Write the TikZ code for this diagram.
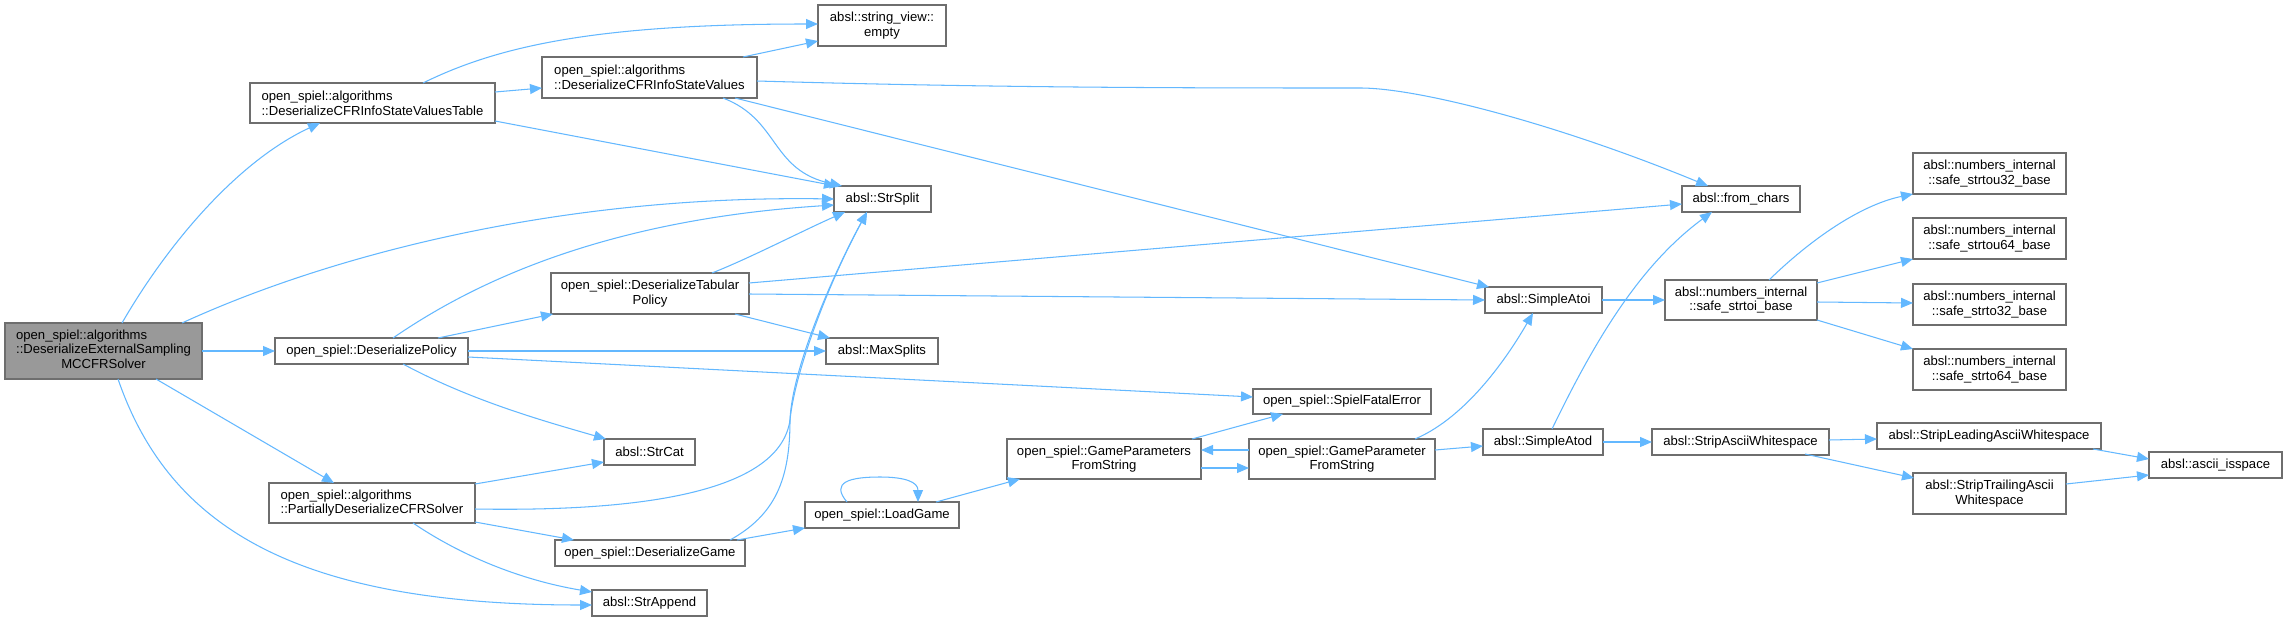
\documentclass[tikz,border=0pt]{standalone}
\usepackage{fontspec}
\setmainfont{Liberation Sans}
\usetikzlibrary{arrows.meta}
\definecolor{edgeblue}{HTML}{63B8FF}
\definecolor{boxgray}{HTML}{6E6E6E}
\definecolor{mainfill}{HTML}{999999}
\newcommand\dfont{\fontsize{13.1}{14.7}\selectfont}
\tikzset{
  box/.style={draw=boxgray, fill=white, line width=1.15pt, inner sep=0pt, outer sep=0pt, font=\dfont, text=black},
  mainbox/.style={box, fill=mainfill},
  call/.style={draw=edgeblue, line width=1.05pt, -{Triangle[length=12pt,width=10pt]}},
}
\begin{document}
\begin{tikzpicture}[x=1pt,y=-1pt]
\useasboundingbox[fill=white] (0,0) rectangle (2287,621);

% nodes
\node[mainbox, minimum width=197pt, minimum height=56pt] (M) at (103.5,351)
  {\begin{tabular}{@{}l@{}}open\_spiel::algorithms\\::DeserializeExternalSampling\\\multicolumn{1}{@{}c@{}}{MCCFRSolver}\end{tabular}};
\node[box, minimum width=245pt, minimum height=40pt, align=left] (T) at (372.5,103) {open\_spiel::algorithms\\::DeserializeCFRInfoStateValuesTable};
\node[box, minimum width=215pt, minimum height=41pt, align=left] (V) at (649.5,77.5) {open\_spiel::algorithms\\::DeserializeCFRInfoStateValues};
\node[box, minimum width=128pt, minimum height=41pt, align=center] (E) at (882,25.5) {absl::string\_view::\\empty};
\node[box, minimum width=97pt, minimum height=26pt] (SS) at (882.5,199) {absl::StrSplit};
\node[box, minimum width=193pt, minimum height=26pt] (P) at (371.5,351) {open\_spiel::DeserializePolicy};
\node[box, minimum width=198pt, minimum height=41pt, align=center] (TP) at (650,293.5) {open\_spiel::DeserializeTabular\\Policy};
\node[box, minimum width=112pt, minimum height=26pt] (MS) at (882,351) {absl::MaxSplits};
\node[box, minimum width=91pt, minimum height=26pt] (SC) at (649.5,452) {absl::StrCat};
\node[box, minimum width=206pt, minimum height=40pt, align=left] (PD) at (372,503) {open\_spiel::algorithms\\::PartiallyDeserializeCFRSolver};
\node[box, minimum width=190pt, minimum height=26pt] (DG) at (650,553) {open\_spiel::DeserializeGame};
\node[box, minimum width=115pt, minimum height=26pt] (SA) at (649.5,603) {absl::StrAppend};
\node[box, minimum width=154pt, minimum height=26pt] (LG) at (882,515) {open\_spiel::LoadGame};
\node[box, minimum width=194pt, minimum height=40pt, align=center] (GPS) at (1104,459) {open\_spiel::GameParameters\\FromString};
\node[box, minimum width=186pt, minimum height=40pt, align=center] (GP) at (1342,459) {open\_spiel::GameParameter\\FromString};
\node[box, minimum width=178pt, minimum height=25pt] (SFE) at (1342,401.5) {open\_spiel::SpielFatalError};
\node[box, minimum width=118pt, minimum height=26pt] (FC) at (1741,199) {absl::from\_chars};
\node[box, minimum width=117pt, minimum height=26pt] (SAi) at (1543.5,300) {absl::SimpleAtoi};
\node[box, minimum width=120pt, minimum height=26pt] (SAd) at (1543,442) {absl::SimpleAtod};
\node[box, minimum width=152pt, minimum height=40pt, align=center] (STB) at (1741,300) {absl::numbers\_internal\\::safe\_strtoi\_base};
\node[box, minimum width=153pt, minimum height=41pt, align=center] (U32) at (1989.5,173.5) {absl::numbers\_internal\\::safe\_strtou32\_base};
\node[box, minimum width=153pt, minimum height=41pt, align=center] (U64) at (1989.5,238.5) {absl::numbers\_internal\\::safe\_strtou64\_base};
\node[box, minimum width=153pt, minimum height=41pt, align=center] (S32) at (1989.5,304.5) {absl::numbers\_internal\\::safe\_strto32\_base};
\node[box, minimum width=153pt, minimum height=41pt, align=center] (S64) at (1989.5,369.5) {absl::numbers\_internal\\::safe\_strto64\_base};
\node[box, minimum width=177pt, minimum height=26pt] (SAW) at (1740.5,442) {absl::StripAsciiWhitespace};
\node[box, minimum width=224pt, minimum height=26pt] (SLW) at (1989,436) {absl::StripLeadingAsciiWhitespace};
\node[box, minimum width=153pt, minimum height=41pt, align=center] (STW) at (1989.5,493.5) {absl::StripTrailingAscii\\Whitespace};
\node[box, minimum width=133pt, minimum height=26pt] (AI) at (2215.5,465) {absl::ascii\_isspace};

% edges from M
\draw[call] ([shift={(117,0)}]M.north west) .. controls (170,240) and (240,160) .. ([shift={(70,0)}]T.south west);
\draw[call] ([shift={(177,0)}]M.north west) .. controls (330,255) and (560,195) .. ([shift={(0,13)}]SS.north west);
\draw[call] ([shift={(197,28)}]M.north west) -- ([shift={(0,13)}]P.north west);
\draw[call] ([shift={(151,56)}]M.north west) -- ([shift={(65,0)}]PD.north west);
\draw[call] ([shift={(113,56)}]M.north west) .. controls (170,530) and (300,605) .. ([shift={(0,15)}]SA.north west);
% T
\draw[call] ([shift={(245,9)}]T.north west) -- ([shift={(0,31)}]V.north west);
\draw[call] ([shift={(173,0)}]T.north west) .. controls (500,45) and (600,24) .. ([shift={(0,19)}]E.north west);
\draw[call] ([shift={(245,38)}]T.north west) -- ([shift={(2,0)}]SS.north west);
% V
\draw[call] ([shift={(201,0)}]V.north west) -- ([shift={(0,36)}]E.north west);
\draw[call] ([shift={(215,24)}]V.north west) .. controls (1000,88) and (1200,88) .. (1360,88)
  .. controls (1420,88) and (1560,125) .. ([shift={(26,0)}]FC.north west);
\draw[call] ([shift={(181,41)}]V.north west) .. controls (780,120) and (770,170) .. ([shift={(8,0)}]SS.north west);
\draw[call] ([shift={(193,41)}]V.north west) -- ([shift={(4,0)}]SAi.north west);
% P
\draw[call] ([shift={(163,0)}]P.north west) -- ([shift={(2,0)}]TP.south west);
\draw[call] ([shift={(118,0)}]P.north west) .. controls (470,285) and (600,220) .. ([shift={(0,19)}]SS.north west);
\draw[call] ([shift={(193,13)}]P.north west) -- ([shift={(0,13)}]MS.north west);
\draw[call] ([shift={(193,19)}]P.north west) -- ([shift={(0,8)}]SFE.north west);
\draw[call] ([shift={(128,26)}]P.north west) .. controls (470,400) and (540,420) .. ([shift={(2,0)}]SC.north west);
% TP
\draw[call] ([shift={(161,0)}]TP.north west) .. controls (750,258) and (800,232) .. ([shift={(11,0)}]SS.south west);
\draw[call] ([shift={(198,10)}]TP.north west) -- ([shift={(0,18)}]FC.north west);
\draw[call] ([shift={(198,21)}]TP.north west) -- ([shift={(0,13)}]SAi.north west);
\draw[call] ([shift={(184,41)}]TP.north west) -- ([shift={(4,0)}]MS.north west);
% PD
\draw[call] ([shift={(206,1)}]PD.north west) -- ([shift={(0,23)}]SC.north west);
\draw[call] ([shift={(206,26)}]PD.north west) .. controls (650,512) and (780,490) .. (790,420)
  .. controls (795,370) and (830,280) .. ([shift={(33,0)}]SS.south west);
\draw[call] ([shift={(206,39)}]PD.north west) -- ([shift={(19,0)}]DG.north west);
\draw[call] ([shift={(144,40)}]PD.north west) .. controls (460,555) and (520,580) .. ([shift={(0,2)}]SA.north west);
% DG
\draw[call] ([shift={(175,0)}]DG.north west) .. controls (775,515) and (790,480) .. (790,420)
  .. controls (792,370) and (830,280) .. ([shift={(33,0)}]SS.south west);
\draw[call] ([shift={(182,0)}]DG.north west) -- (LG.south west);
% LG
\draw[call] ([shift={(42,0)}]LG.north west) .. controls (830,482) and (850,477) .. (880,477)
  .. controls (905,477) and (918,482) .. ([shift={(113,0)}]LG.north west);
\draw[call] ([shift={(131,0)}]LG.north west) -- ([shift={(13,0)}]GPS.south west);
% GPS / GP
\draw[call] ([shift={(185,0)}]GPS.north west) -- ([shift={(30,0)}]SFE.south west);
\draw[call] ([shift={(194,29)}]GPS.north west) -- ([shift={(0,29)}]GP.north west);
\draw[call] ([shift={(0,11)}]GP.north west) -- ([shift={(194,11)}]GPS.north west);
\draw[call] ([shift={(166,0)}]GP.north west) .. controls (1460,420) and (1500,370) .. ([shift={(48,0)}]SAi.south west);
\draw[call] ([shift={(186,11)}]GP.north west) -- ([shift={(0,17)}]SAd.north west);
% SimpleAtoi / SimpleAtod
\draw[call] ([shift={(117,13)}]SAi.north west) -- ([shift={(0,20)}]STB.north west);
\draw[call] ([shift={(69,0)}]SAd.north west) .. controls (1595,340) and (1640,265) .. ([shift={(30,0)}]FC.south west);
\draw[call] ([shift={(120,13)}]SAd.north west) -- ([shift={(0,13)}]SAW.north west);
% safe_strtoi_base
\draw[call] ([shift={(104,0)}]STB.north west) .. controls (1810,240) and (1860,205) .. (U32.south west);
\draw[call] ([shift={(152,3)}]STB.north west) -- (U64.south west);
\draw[call] ([shift={(152,22)}]STB.north west) -- ([shift={(0,19)}]S32.north west);
\draw[call] ([shift={(152,40)}]STB.north west) -- (S64.north west);
% strip
\draw[call] ([shift={(177,11)}]SAW.north west) -- ([shift={(0,16)}]SLW.north west);
\draw[call] ([shift={(153,25)}]SAW.north west) -- ([shift={(1,5)}]STW.north west);
\draw[call] ([shift={(216,26)}]SLW.north west) -- ([shift={(0,7)}]AI.north west);
\draw[call] ([shift={(153,11)}]STW.north west) -- ([shift={(0,23)}]AI.north west);
\end{tikzpicture}
\end{document}
